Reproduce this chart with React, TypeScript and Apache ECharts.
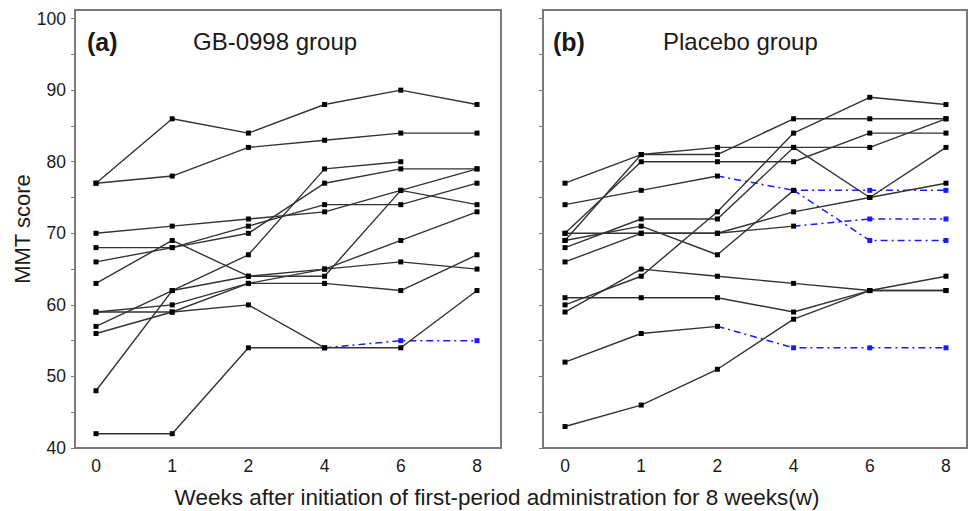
import React, { useEffect, useRef } from "react";
import * as echarts from "echarts";

const weekLabels = ["0", "1", "2", "4", "6", "8"];
const yTicks = [40, 50, 60, 70, 80, 90, 100];
const yMinorTicks = [40, 45, 50, 55, 60, 65, 70, 75, 80, 85, 90, 95, 100];

// (a) GB-0998 group: solid observed scores per patient
const gbScores: (number | null)[][] = [
  [77, 86, 84, 88, 90, 88],
  [77, 78, 82, 83, 84, 84],
  [70, 71, 72, 73, 76, 79],
  [68, 68, 71, 74, 74, 77],
  [66, 68, 70, 77, 79, 79],
  [63, 69, 64, 64, 76, 74],
  [48, 62, 67, 79, 80, null],
  [42, 42, 54, 54, 54, 62],
  [59, 59, 60, 54, null, null],
  [59, 60, 63, 65, 69, 73],
  [57, 62, 64, 65, 66, 65],
  [56, 59, 63, 63, 62, 67],
];
// (a) dashed (imputed) continuation
const gbImputed: (number | null)[][] = [[null, null, null, 54, 55, 55]];

// (b) Placebo group
const placeboScores: (number | null)[][] = [
  [77, 81, 82, 82, 82, 86],
  [74, 76, 78, null, null, null],
  [69, 81, 81, 86, 86, 86],
  [70, 80, 80, 80, 84, 84],
  [68, 72, 72, 82, 75, 82],
  [69, 71, 67, 76, null, null],
  [66, 70, 70, 73, 75, 77],
  [61, 61, 61, 59, 62, 62],
  [60, 64, 73, 84, 89, 88],
  [59, 65, 64, 63, 62, 62],
  [52, 56, 57, null, null, null],
  [43, 46, 51, 58, 62, 64],
  [70, 70, 70, 71, null, null],
];
const placeboImputed: (number | null)[][] = [
  [null, null, 78, 76, 76, 76],
  [null, null, null, 76, 69, 69],
  [null, null, 57, 54, 54, 54],
  [null, null, null, 71, 72, 72],
];

const FONT = "Liberation Sans";
const TEXT = "#1a1a1a";
const LINE_COLOR = "#333333";
const BLUE = "#1a1aff";
const FRAME = "#7a7a7a";

function solidSeries(rows: (number | null)[][], idx: number) {
  return rows.map((row) => ({
    type: "line",
    xAxisIndex: idx,
    yAxisIndex: idx,
    symbol: "rect",
    symbolSize: 5,
    z: 3,
    itemStyle: { color: "#000" },
    lineStyle: { color: LINE_COLOR, width: 1.4 },
    data: row
      .map((v, i) => (v === null ? null : [i, v]))
      .filter((d) => d !== null),
  }));
}

function dashedSeries(rows: (number | null)[][], idx: number) {
  return rows.map((row) => {
    const pts: any[] = [];
    let first = true;
    row.forEach((v, i) => {
      if (v === null) return;
      if (first) {
        pts.push({ value: [i, v], symbol: "none" });
        first = false;
      } else {
        pts.push([i, v]);
      }
    });
    return {
      type: "line",
      xAxisIndex: idx,
      yAxisIndex: idx,
      symbol: "rect",
      symbolSize: 5,
      z: 2,
      itemStyle: { color: BLUE },
      lineStyle: { color: BLUE, width: 1.5, type: [7, 4, 2, 4] },
      data: pts,
    };
  });
}

export default function App() {
  const ref = useRef<HTMLDivElement>(null);
  useEffect(() => {
    if (!ref.current) return;
    const chart = echarts.init(ref.current, null, { renderer: "svg" });
    const grids = [
      { left: 75, top: 10, width: 426, height: 438 },
      { left: 543, top: 10, width: 424, height: 438 },
    ];
    const xRanges = [
      { min: -0.2756, max: 5.315 },
      { min: -0.289, max: 5.276 },
    ];
    const option: any = {
      animation: false,
      backgroundColor: "#fff",
      grid: grids.map((g) => ({
        ...g,
        show: true,
        borderColor: FRAME,
        borderWidth: 2,
        backgroundColor: "transparent",
      })),
      xAxis: [0, 1].map((i) => ({
        type: "value",
        gridIndex: i,
        min: xRanges[i].min,
        max: xRanges[i].max,
        axisLine: { show: true, onZero: false, lineStyle: { color: FRAME, width: 2 } },
        axisTick: { show: false },
        splitLine: { show: false },
        axisLabel: {
          customValues: [0, 1, 2, 3, 4, 5],
          formatter: (v: number) => weekLabels[Math.round(v)] ?? "",
          fontSize: 17.5,
          fontFamily: FONT,
          color: TEXT,
          margin: 9,
        },
      })),
      yAxis: [0, 1].map((i) => ({
        type: "value",
        gridIndex: i,
        min: 40,
        max: 101.2,
        axisLine: { show: true, onZero: false, lineStyle: { color: FRAME, width: 2 } },
        axisTick: {
          show: true,
          length: 4,
          customValues: yMinorTicks,
          lineStyle: { color: FRAME, width: 1 },
        },
        splitLine: { show: false },
        axisLabel: {
          show: i === 0,
          customValues: yTicks,
          fontSize: 17.5,
          fontFamily: FONT,
          color: TEXT,
          margin: 9,
        },
      })),
      graphic: [
        {
          type: "text",
          left: 87,
          top: 29,
          style: { text: "(a)", fontSize: 25, fontWeight: "bold", fontFamily: FONT, fill: TEXT },
        },
        {
          type: "text",
          left: 193,
          top: 29,
          style: { text: "GB-0998 group", fontSize: 24, fontFamily: FONT, fill: TEXT },
        },
        {
          type: "text",
          left: 553,
          top: 29,
          style: { text: "(b)", fontSize: 25, fontWeight: "bold", fontFamily: FONT, fill: TEXT },
        },
        {
          type: "text",
          left: 663,
          top: 29,
          style: { text: "Placebo group", fontSize: 24, fontFamily: FONT, fill: TEXT },
        },
        {
          type: "text",
          x: 22,
          y: 229,
          rotation: Math.PI / 2,
          style: {
            text: "MMT score",
            fontSize: 22,
            fontFamily: FONT,
            fill: TEXT,
            align: "center",
            verticalAlign: "middle",
          },
        },
        {
          type: "text",
          x: 497,
          y: 497,
          style: {
            text: "Weeks after initiation of first-period administration for 8 weeks(w)",
            fontSize: 22.5,
            fontFamily: FONT,
            fill: TEXT,
            align: "center",
            verticalAlign: "middle",
          },
        },
      ],
      series: [
        ...dashedSeries(gbImputed, 0),
        ...dashedSeries(placeboImputed, 1),
        ...solidSeries(gbScores, 0),
        ...solidSeries(placeboScores, 1),
      ],
    };
    chart.setOption(option);
    return () => chart.dispose();
  }, []);
  return <div ref={ref} style={{ width: 969, height: 511, position: "absolute", left: 0, top: 0 }} />;
}
